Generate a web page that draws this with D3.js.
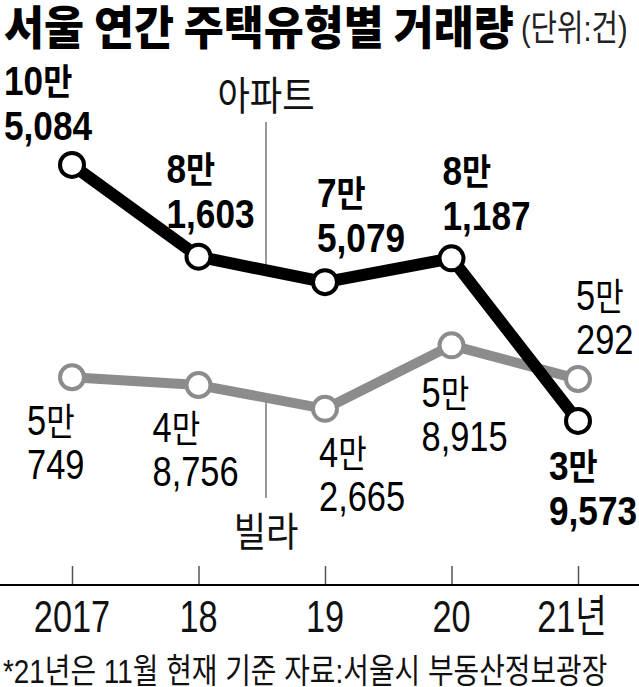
<!DOCTYPE html>
<html><head><meta charset="utf-8">
<script src="https://cdn.jsdelivr.net/npm/d3@7"></script>
<style>body{margin:0;background:#fff;} svg{display:block;}</style>
</head><body>
<script>
// ---- data ----
const years = ["2017", "18", "19", "20", "21년"];
const apartment = [105084, 81603, 75079, 81187, 39573];
const villa = [50749, 48756, 42665, 58915, 50292];
const seriesNames = ["아파트", "빌라"];
const title = "서울 연간 주택유형별 거래량";
const unit = "(단위:건)";
const note = "*21년은 11월 현재 기준 자료:서울시 부동산정보광장";

// ---- layout ----
const W = 639, H = 687;
const FONT = "'Liberation Sans','Noto Sans CJK KR',sans-serif";
const KFONT = "'Noto Sans CJK KR',sans-serif";
const GRAY = "#8c8c8c";
const svg = d3.select("body").append("svg").attr("width", W).attr("height", H);
const x = d3.scalePoint().domain(years).range([72, 578]);
const y = d3.scaleLinear().domain([0, 110000]).range([575.6, 145.7]);
const axisY = 585;

// label offsets relative to each point: [dx to text start, dy to first baseline]
const aptOff = [[-68, -70], [-32, -74], [-8, -75], [-9, -73], [-29, 59]];
const vilOff = [[-45, 58], [-46, 57], [-6, 58], [-30, 62], [-2, -69]];

// draws text condensed horizontally by factor sx
function put(str, px, py, size, sx, opts = {}, extra) {
  const g = svg.append("g").attr("transform", `translate(${px},${py}) scale(${sx},1)`);
  const t = g.append("text").attr("x", 0).attr("y", 0)
    .attr("font-family", opts.family || FONT)
    .attr("font-size", size)
    .attr("font-weight", opts.weight || "normal")
    .attr("fill", opts.fill || "#111")
    .attr("text-anchor", opts.anchor || "start");
  t.text(str);
  if (extra) extra(t);
  return t;
}

// title
put(title, 4, 44, 46, 0.945, {family: KFONT, weight: "900", fill: "#000"});
put(unit, 521, 41, 36, 0.8, {fill: "#222"});

// axis
const axis = d3.axisBottom(x).tickSizeInner(-19).tickSizeOuter(0).tickFormat("");
const ag = svg.append("g").attr("transform", `translate(0,${axisY})`).call(axis);
ag.select(".domain").remove();
ag.selectAll(".tick line").attr("stroke", "#555").attr("stroke-width", 1.5);
svg.append("line").attr("x1", 0).attr("x2", W).attr("y1", axisY).attr("y2", axisY)
  .attr("stroke", "#000").attr("stroke-width", 2);
years.forEach((yr, i) => {
  const shift = i === years.length - 1 ? -6 : 0;
  put(yr, x(yr) + shift, 632, 44, 0.78, {anchor: "middle", fill: "#111"});
});

// series marker lines
const mx = 266;
function interpAt(arr) {
  const i0 = 1, i1 = 2;
  const t = (mx - x(years[i0])) / (x(years[i1]) - x(years[i0]));
  return y(arr[i0]) + t * (y(arr[i1]) - y(arr[i0]));
}
svg.append("line").attr("x1", mx).attr("x2", mx).attr("y1", 122).attr("y2", interpAt(apartment))
  .attr("stroke", "#777").attr("stroke-width", 1.5);
svg.append("line").attr("x1", mx).attr("x2", mx).attr("y1", interpAt(villa)).attr("y2", 498)
  .attr("stroke", "#777").attr("stroke-width", 1.5);
put(seriesNames[0], mx, 110, 40, 0.88, {family: KFONT, anchor: "middle", fill: "#111"});
put(seriesNames[1], mx, 546, 40, 0.88, {family: KFONT, anchor: "middle", fill: "#111"});

// lines
const line = d3.line().x((d, i) => x(years[i])).y(d => y(d));
svg.append("path").datum(villa).attr("d", line).attr("fill", "none")
  .attr("stroke", GRAY).attr("stroke-width", 10).attr("stroke-linejoin", "round");
svg.selectAll(".cv").data(villa).enter().append("circle")
  .attr("cx", (d, i) => x(years[i])).attr("cy", d => y(d)).attr("r", 12)
  .attr("fill", "#fff").attr("stroke", GRAY).attr("stroke-width", 4);
svg.append("path").datum(apartment).attr("d", line).attr("fill", "none")
  .attr("stroke", "#000").attr("stroke-width", 12).attr("stroke-linejoin", "round");
svg.selectAll(".ca").data(apartment).enter().append("circle")
  .attr("cx", (d, i) => x(years[i])).attr("cy", d => y(d)).attr("r", 12)
  .attr("fill", "#fff").attr("stroke", "#000").attr("stroke-width", 4);

// value labels
const fmt = d3.format(",");
function valueLabel(v, px, py, bold) {
  const man = Math.floor(v / 10000), rest = v % 10000;
  const size = bold ? 40 : 42, sx = bold ? 0.88 : 0.82;
  const w = bold ? "bold" : "normal";
  put(String(man), px, py, size, sx, {weight: w, fill: "#000"},
    t => t.append("tspan").attr("font-size", size * 0.9).text("만"));
  put(fmt(rest), px, py + (bold ? 45 : 44), size, sx, {weight: w, fill: "#000"});
}
apartment.forEach((v, i) => valueLabel(v, x(years[i]) + aptOff[i][0], y(v) + aptOff[i][1], true));
villa.forEach((v, i) => valueLabel(v, x(years[i]) + vilOff[i][0], y(v) + vilOff[i][1], false));

// footnote
put(note, 3, 683, 34, 0.82, {fill: "#111"});
</script>
</body></html>
